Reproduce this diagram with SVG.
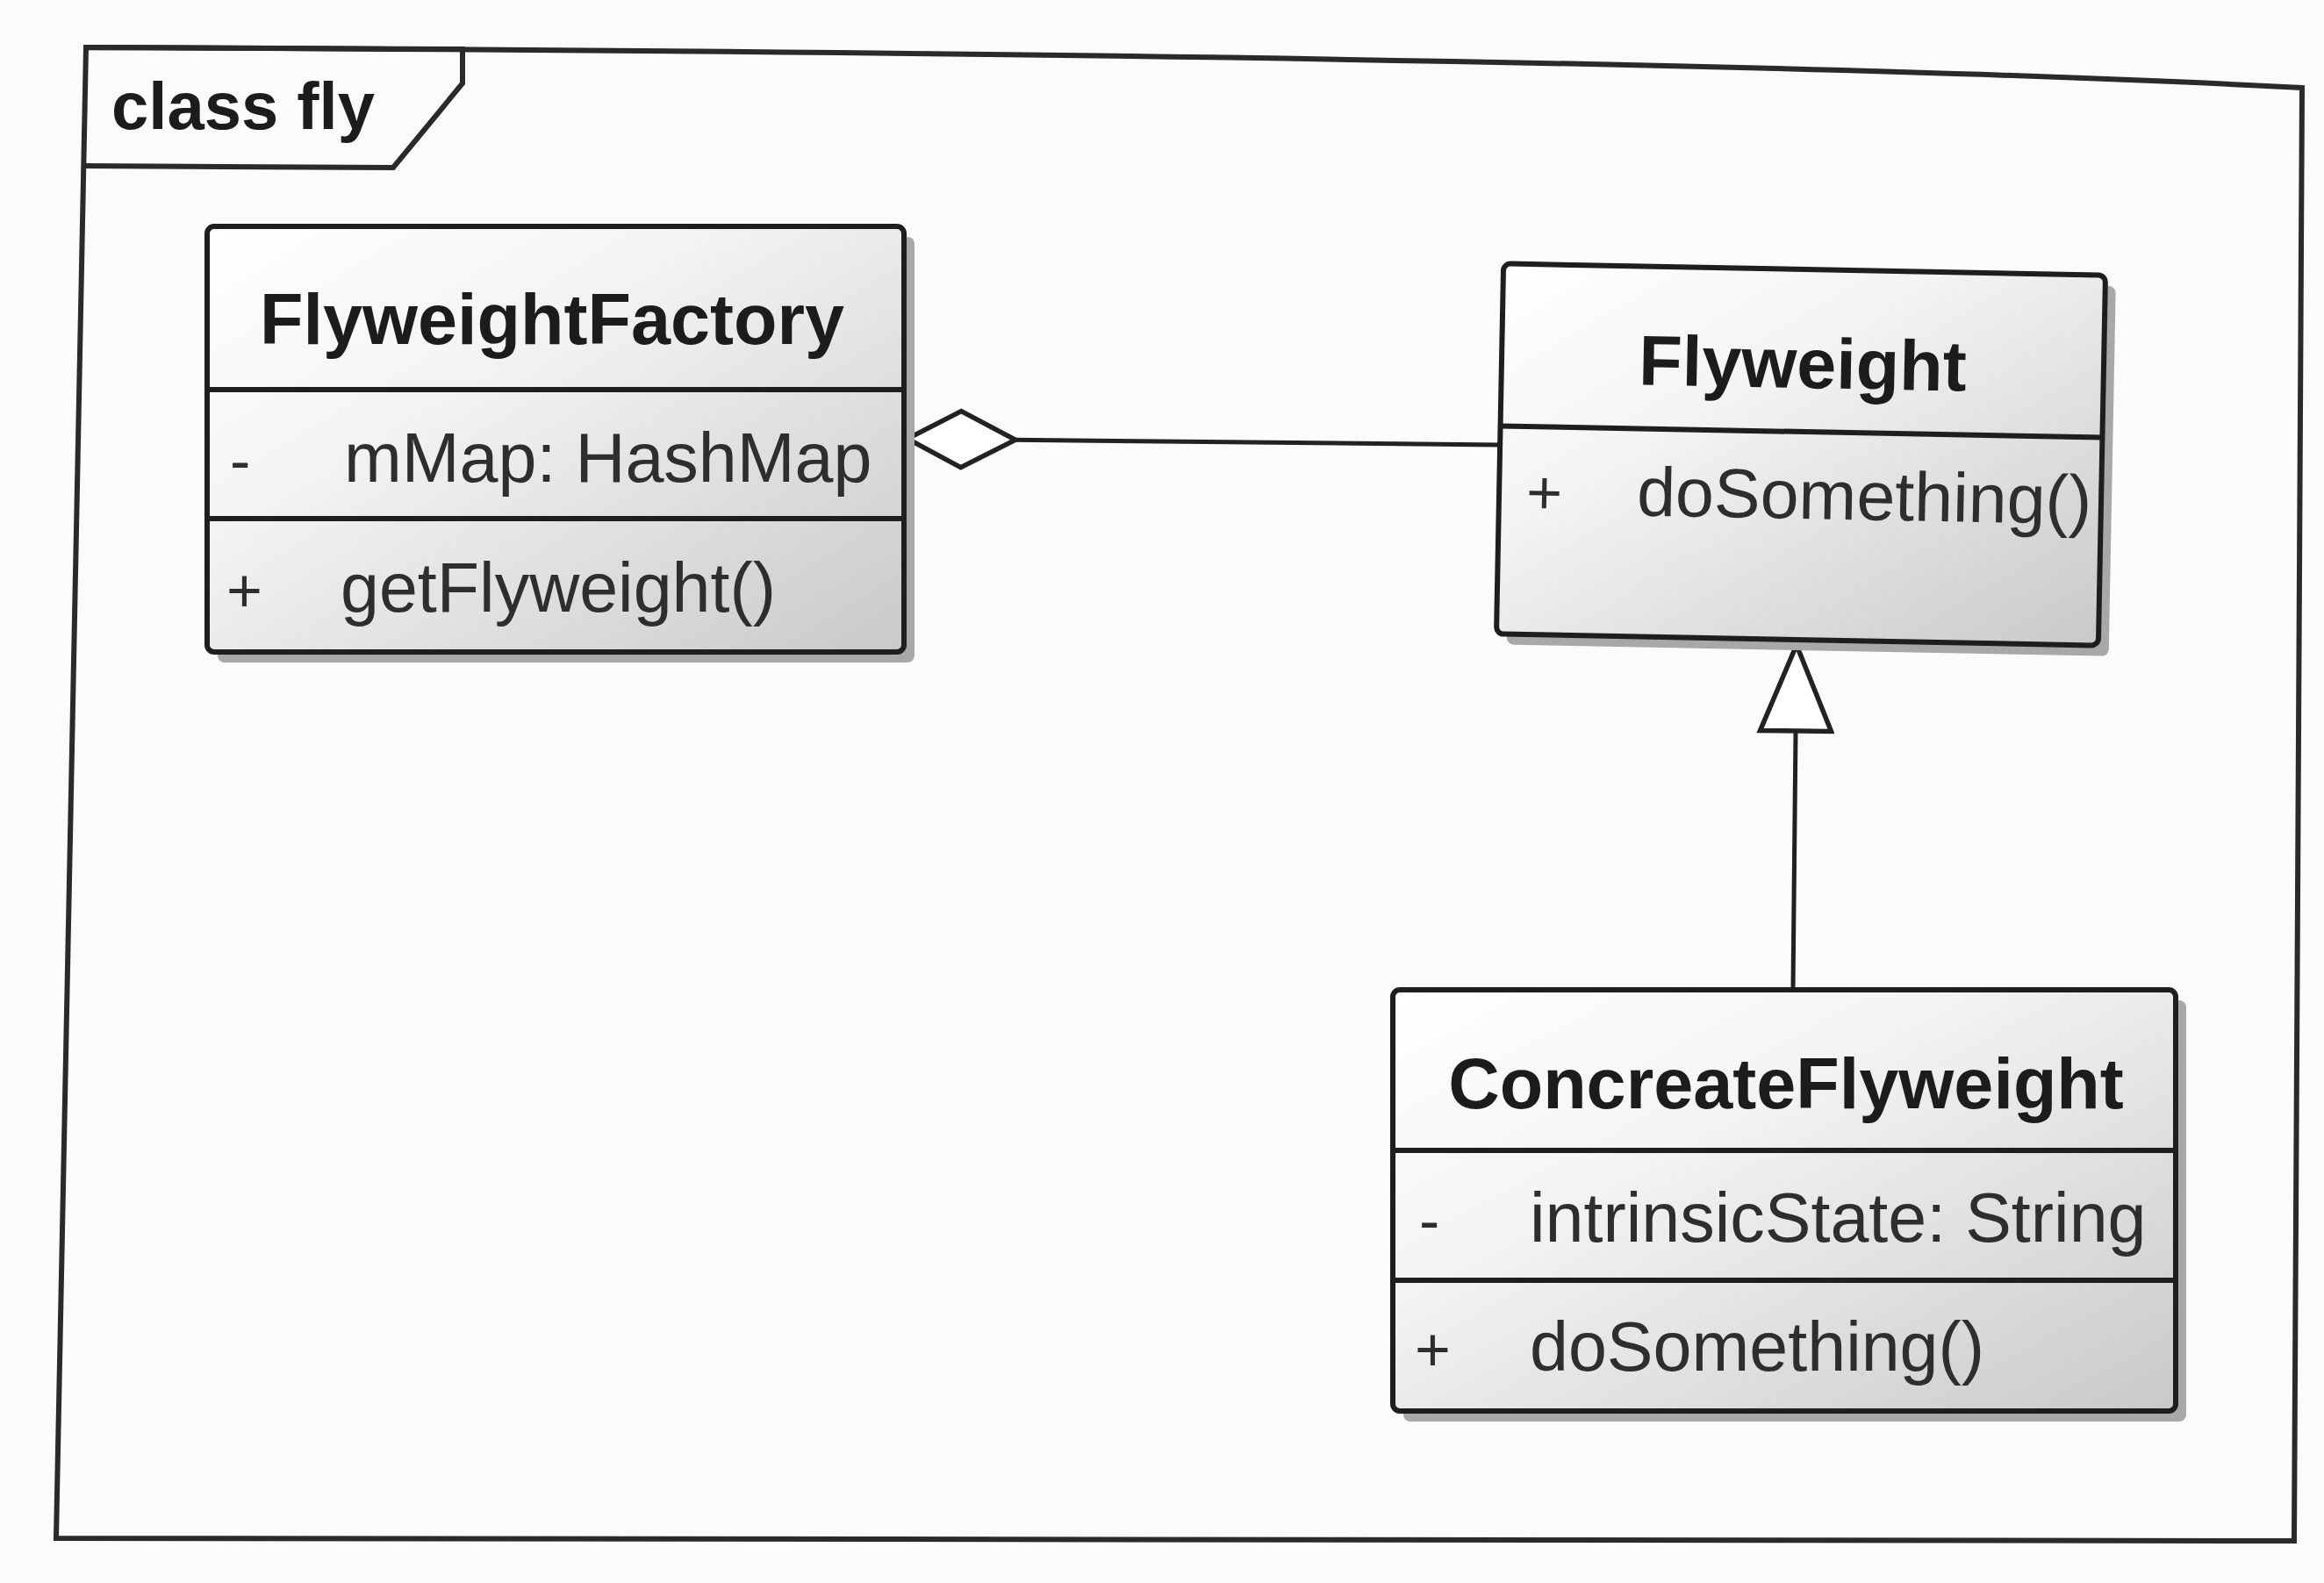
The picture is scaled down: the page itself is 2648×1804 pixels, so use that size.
<svg xmlns="http://www.w3.org/2000/svg" width="2648" height="1804" viewBox="0 0 2648 1804">
<defs>
<style>
.frame{fill:none;stroke:#2a2a2a;stroke-width:6;stroke-linejoin:miter}
.box{fill:url(#boxfill);stroke:#1e1e1e;stroke-width:6}
.shadow{fill:#a8a8a8}
.div{stroke:#1e1e1e;stroke-width:6}
.name{font-family:"Liberation Sans",Arial,sans-serif;font-weight:bold;font-size:81px;fill:#1c1c1c;text-anchor:middle}
.member{font-family:"Liberation Sans",Arial,sans-serif;font-size:79px;fill:#2e2e2e}
.vis{font-family:"Liberation Sans",Arial,sans-serif;font-size:70px;fill:#2e2e2e}
.title{font-family:"Liberation Sans",Arial,sans-serif;font-weight:bold;font-size:76px;fill:#1c1c1c}
.conn{fill:none;stroke:#222;stroke-width:5}
</style>
<linearGradient id="boxfill" x1="0" y1="0" x2="1" y2="1">
<stop offset="0" stop-color="#ffffff"/>
<stop offset="0.35" stop-color="#f4f4f4"/>
<stop offset="1" stop-color="#c9c9c9"/>
</linearGradient>
<marker id="diamond" viewBox="-4 -4 131 72" refX="0" refY="32" markerWidth="131" markerHeight="72" markerUnits="userSpaceOnUse" orient="auto">
<polygon points="0,32 61,0 123,32 61,64" fill="#ffffff" stroke="#222" stroke-width="5.5"/>
</marker>
<marker id="triangle" viewBox="-4 -4 106 89" refX="98" refY="40.5" markerWidth="106" markerHeight="89" markerUnits="userSpaceOnUse" orient="auto">
<polygon points="0,0 98,40.5 0,81" fill="#ffffff" stroke="#222" stroke-width="5.5"/>
</marker>
</defs>
<rect x="0" y="0" width="2648" height="1804" fill="#fbfbfb"/>
<g id="frame">
<path class="frame" d="M98,54 Q1900,62 2623,100 L2614,1756 L64,1753 Z"/>
<path class="frame" d="M98,54 L527,56 L527,95 L448,191 L96,189"/>
<text class="title" x="127" y="147">class fly</text>
</g>
<g id="connectors">
<path id="aggregation" class="conn" d="M1034,500 L1709,507" marker-start="url(#diamond)"/>
<path id="generalization" class="conn" d="M2043,1128 L2047,735" marker-end="url(#triangle)"/>
</g>
<g id="FlyweightFactory">
<rect class="shadow" x="248" y="270" width="794" height="485" rx="8"/>
<rect class="box" x="236" y="258" width="794" height="485" rx="8"/>
<line class="div" x1="236" y1="444" x2="1030" y2="444"/>
<line class="div" x1="236" y1="591" x2="1030" y2="591"/>
<text class="name" x="629" y="392">FlyweightFactory</text>
<text class="vis" x="262" y="549">-</text>
<text class="member" x="392" y="549">mMap: HashMap</text>
<text class="vis" x="258" y="697">+</text>
<text class="member" x="388" y="697">getFlyweight()</text>
</g>
<g id="Flyweight" transform="rotate(1.1 2052 518)">
<rect class="shadow" x="1721" y="319" width="686" height="422" rx="8"/>
<rect class="box" x="1709" y="307" width="686" height="422" rx="8"/>
<line class="div" x1="1709" y1="492" x2="2395" y2="492"/>
<text class="name" x="2052" y="442">Flyweight</text>
<text class="vis" x="1740" y="591">+</text>
<text class="member" x="1866" y="591">doSomething()</text>
</g>
<g id="ConcreateFlyweight">
<rect class="shadow" x="1599" y="1140" width="892" height="480" rx="8"/>
<rect class="box" x="1587" y="1128" width="892" height="480" rx="8"/>
<line class="div" x1="1587" y1="1311" x2="2479" y2="1311"/>
<line class="div" x1="1587" y1="1459" x2="2479" y2="1459"/>
<text class="name" x="2035" y="1263">ConcreateFlyweight</text>
<text class="vis" x="1617" y="1415">-</text>
<text class="member" x="1743" y="1415">intrinsicState: String</text>
<text class="vis" x="1612" y="1562">+</text>
<text class="member" x="1743" y="1562">doSomething()</text>
</g>
</svg>
